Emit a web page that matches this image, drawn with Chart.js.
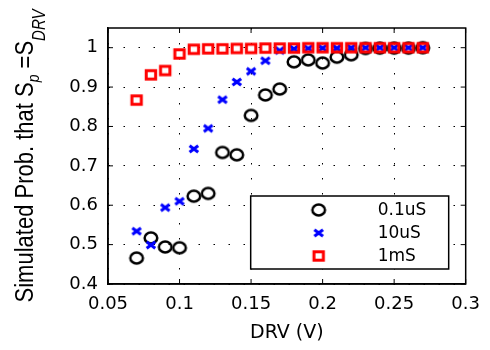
<!DOCTYPE html>
<html>
<head>
<meta charset="utf-8">
<script src="https://cdn.jsdelivr.net/npm/chart.js@4.4.0/dist/chart.umd.min.js"></script>
<style>
  html, body { margin: 0; padding: 0; background: #fff; }
</style>
</head>
<body>
<canvas id="myChart" width="490" height="350"></canvas>
<script>
// DRV (V) on x, simulated probability on y
var drv = [0.07, 0.08, 0.09, 0.10, 0.11, 0.12, 0.13, 0.14, 0.15, 0.16, 0.17,
           0.18, 0.19, 0.20, 0.21, 0.22, 0.23, 0.24, 0.25, 0.26, 0.27];
var prob01uS = [0.466, 0.517, 0.494, 0.492, 0.623, 0.630, 0.734, 0.728, 0.828, 0.880, 0.895,
                0.964, 0.969, 0.961, 0.976, 0.982, 0.998, 0.999, 0.999, 0.999, 1.0];
var prob10uS = [0.534, 0.499, 0.594, 0.610, 0.743, 0.795, 0.868, 0.913, 0.940, 0.967, 0.993,
                0.997, 0.998, 0.999, 0.999, 1.0, 1.0, 1.0, 1.0, 1.0, 1.0];
var prob1mS = [0.867, 0.931, 0.942, 0.984, 0.996, 0.997, 0.997, 0.998, 0.998, 0.999, 0.999,
               0.999, 1.0, 1.0, 1.0, 1.0, 1.0, 1.0, 1.0, 1.0, 1.0];
var seriesNames = ['0.1uS', '10uS', '1mS'];
var xTicks = [0.05, 0.1, 0.15, 0.2, 0.25, 0.3];
var yTicks = [0.4, 0.5, 0.6, 0.7, 0.8, 0.9, 1];

function pts(ys) {
  return drv.map(function (x, i) { return { x: x, y: ys[i] }; });
}

// marker images (matlab style)
function makeMarker(kind) {
  var c = document.createElement('canvas');
  c.width = 20; c.height = 18;
  var g = c.getContext('2d');
  g.translate(10, 9);
  if (kind === 'circle') {
    g.strokeStyle = '#000'; g.lineWidth = 2.5;
    g.beginPath(); g.ellipse(0, 0, 6.3, 5.4, 0, 0, Math.PI * 2); g.stroke();
  } else if (kind === 'cross') {
    g.strokeStyle = '#0000ff'; g.lineWidth = 3;
    g.beginPath();
    g.moveTo(-4.3, -3.3); g.lineTo(4.3, 3.3);
    g.moveTo(-4.3, 3.3); g.lineTo(4.3, -3.3);
    g.stroke();
  } else {
    g.strokeStyle = '#ff0000'; g.lineWidth = 3;
    g.strokeRect(-4.7, -4.2, 9.4, 8.4);
  }
  return c;
}
var markers = [makeMarker('circle'), makeMarker('cross'), makeMarker('square')];

var framePlugin = {
  id: 'frame',
  afterDraw: function (chart) {
    var ctx = chart.ctx, a = chart.chartArea;
    var xs = chart.scales.x, ys = chart.scales.y;
    ctx.save();
    ctx.strokeStyle = '#000';
    ctx.lineWidth = 1.5;
    ctx.strokeRect(a.left, a.top, a.right - a.left, a.bottom - a.top);

    // inner ticks
    ctx.lineWidth = 1;
    ctx.beginPath();
    xTicks.forEach(function (v) {
      var p = xs.getPixelForValue(v);
      ctx.moveTo(p, a.bottom); ctx.lineTo(p, a.bottom - 5);
      ctx.moveTo(p, a.top); ctx.lineTo(p, a.top + 5);
    });
    yTicks.forEach(function (v) {
      var p = ys.getPixelForValue(v);
      ctx.moveTo(a.left, p); ctx.lineTo(a.left + 5, p);
      ctx.moveTo(a.right, p); ctx.lineTo(a.right - 5, p);
    });
    ctx.stroke();

    // legend box
    var lx = a.right - 215, ly = a.bottom - 88, lw = 198, lh = 73;
    ctx.fillStyle = '#fff';
    ctx.fillRect(lx, ly, lw, lh);
    ctx.lineWidth = 1.5;
    ctx.strokeRect(lx, ly, lw, lh);
    ctx.font = '17px "DejaVu Sans"';
    ctx.fillStyle = '#000';
    ctx.textAlign = 'left';
    ctx.textBaseline = 'middle';
    seriesNames.forEach(function (name, i) {
      var ry = ly + 14 + i * 23;
      var m = markers[i];
      ctx.drawImage(m, lx + 68 - m.width / 2, ry - m.height / 2);
      ctx.fillText(name, lx + 127, ry + 1);
    });

    // x title
    ctx.textAlign = 'center';
    ctx.textBaseline = 'alphabetic';
    ctx.font = '19px "DejaVu Sans"';
    ctx.fillText('DRV (V)', (a.left + a.right) / 2, 338);

    // y title with subscripts
    var parts = [
      { t: 'Simulated Prob. that S', f: '22px "Liberation Sans"', dy: 0 },
      { t: 'p', f: 'italic 14px "Liberation Sans"', dy: 5 },
      { t: ' =S', f: '22px "Liberation Sans"', dy: 0 },
      { t: 'DRV', f: 'italic 15px "Liberation Sans"', dy: 10 }
    ];
    ctx.translate(33, (a.top + a.bottom) / 2);
    ctx.scale(1.2, 1);
    ctx.rotate(-Math.PI / 2);
    ctx.textAlign = 'left';
    var total = 0;
    parts.forEach(function (p) { ctx.font = p.f; p.w = ctx.measureText(p.t).width; total += p.w; });
    var cx = -total / 2;
    parts.forEach(function (p) {
      ctx.font = p.f;
      ctx.fillText(p.t, cx, p.dy);
      cx += p.w;
    });
    ctx.restore();
  }
};

Chart.defaults.color = '#000';

new Chart(document.getElementById('myChart'), {
  type: 'scatter',
  data: {
    datasets: [
      { label: seriesNames[0], data: pts(prob01uS), pointStyle: markers[0], pointRadius: 6, order: 2 },
      { label: seriesNames[1], data: pts(prob10uS), pointStyle: markers[1], pointRadius: 6, order: 1 },
      { label: seriesNames[2], data: pts(prob1mS), pointStyle: markers[2], pointRadius: 6, order: 0 }
    ]
  },
  options: {
    responsive: false,
    animation: false,
    events: [],
    layout: { padding: { top: 28, right: 18, left: 0, bottom: 0 } },
    plugins: { legend: { display: false }, tooltip: { enabled: false } },
    scales: {
      x: {
        type: 'linear',
        min: 0.05,
        max: 0.3,
        afterBuildTicks: function (s) { s.ticks = xTicks.map(function (v) { return { value: v }; }); },
        afterFit: function (s) { s.height = 66; },
        ticks: {
          font: { family: 'DejaVu Sans', size: 18 },
          padding: 10,
          maxRotation: 0,
          callback: function (v) { return String(v); }
        },
        grid: { color: '#000', lineWidth: 1, drawTicks: false },
        border: { display: true, color: '#000', width: 1.5, dash: [1.5, 13.5] }
      },
      y: {
        min: 0.4,
        max: 1.05,
        afterBuildTicks: function (s) { s.ticks = yTicks.map(function (v) { return { value: v }; }); },
        afterFit: function (s) { s.width = 108; },
        ticks: {
          font: { family: 'DejaVu Sans', size: 18 },
          padding: 10,
          callback: function (v) { return String(v); }
        },
        grid: { color: '#000', lineWidth: 1, drawTicks: false },
        border: { display: true, color: '#000', width: 1.5, dash: [1.5, 13.5] }
      }
    }
  },
  plugins: [framePlugin]
});
</script>
</body>
</html>
